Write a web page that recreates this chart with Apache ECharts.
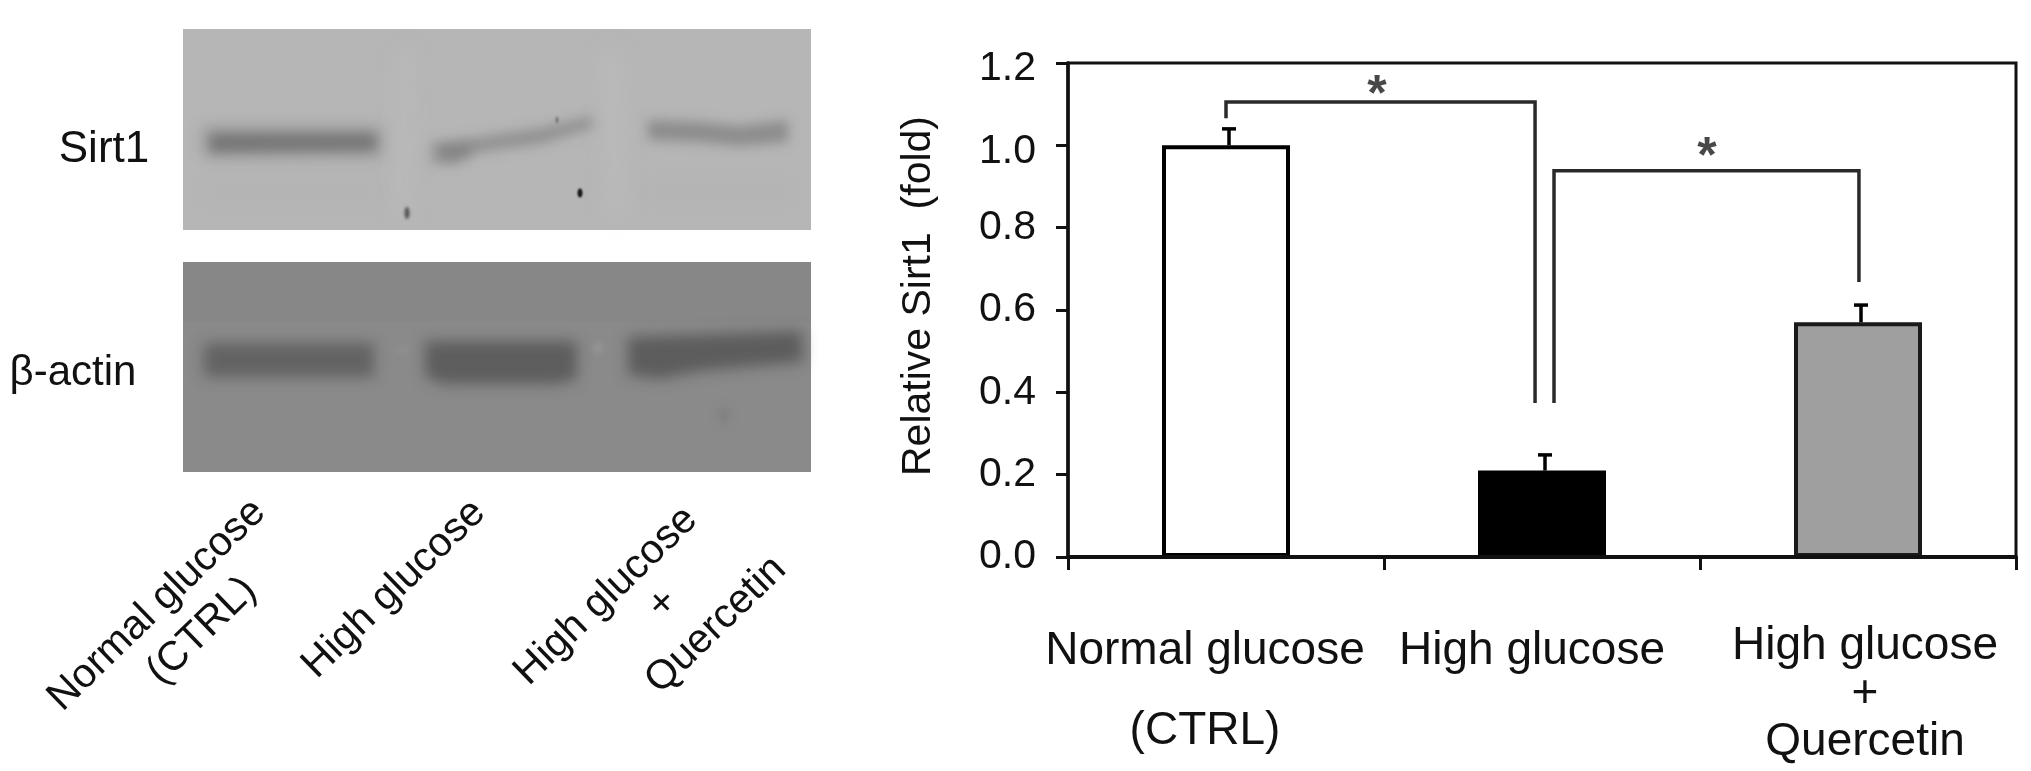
<!DOCTYPE html>
<html><head><meta charset="utf-8">
<style>html,body{margin:0;padding:0;background:#fff}#c{width:2031px;height:771px}</style>
<script src="https://cdn.jsdelivr.net/npm/echarts@6/dist/echarts.min.js"></script>
</head><body><div id="c"></div>
<script>
const categories = ['Normal glucose\n(CTRL)', 'High glucose', 'High glucose\n+\nQuercetin'];
const means = [1.0, 0.21, 0.57];
const errorTops = [1.04, 0.248, 0.612];
const barColors = ['#ffffff', '#000000', '#9f9f9f'];
const yTicks = {min: 0, max: 1.2, step: 0.2};
const bracketA = [[0.5, 1.066], [0.5, 1.105], [1.478, 1.105], [1.478, 0.374]];
const bracketB = [[1.538, 0.374], [1.538, 0.938], [2.503, 0.938], [2.503, 0.668]];
const stars = [[0.978, 1.146], [2.022, 0.996]];
const yTitle = 'Relative Sirt1  (fold)';
const blotLabels = ['Sirt1', 'β-actin'];
const slantedLabels = ['Normal glucose', '(CTRL)', 'High glucose', 'High glucose', '+', 'Quercetin'];

const FONT = '"Liberation Sans", Arial, sans-serif';
const INK = '#111';
const OFF = 3000;

function blurShape(points, color, blur) {
  return {type: 'polygon', silent: true,
    shape: {points: points.map(p => [p[0] - OFF, p[1]])},
    style: {fill: color, shadowColor: color, shadowBlur: blur, shadowOffsetX: OFF}};
}
function rect(x, y, w, h, fill) {
  return {type: 'rect', silent: true, shape: {x, y, width: w, height: h}, style: {fill}};
}
function spot(cx, cy, rx, ry, color, blur) {
  return {type: 'ellipse', silent: true, shape: {cx: cx - OFF, cy, rx, ry},
    style: {fill: color, shadowColor: color, shadowBlur: blur, shadowOffsetX: OFF}};
}
function streak(x, w, color) {
  return blurShape([[x, 40], [x + w, 40], [x + w, 220], [x, 220]], color, 16);
}

const blots = [
  rect(183, 29, 628, 201, '#b6b6b6'),
  streak(205, 30, 'rgba(255,255,255,0.05)'),
  streak(262, 36, 'rgba(0,0,0,0.025)'),
  streak(335, 40, 'rgba(255,255,255,0.05)'),
  streak(480, 36, 'rgba(255,255,255,0.05)'),
  streak(530, 30, 'rgba(0,0,0,0.025)'),
  streak(650, 30, 'rgba(0,0,0,0.02)'),
  streak(720, 36, 'rgba(255,255,255,0.05)'),
  blurShape([[396,50],[414,50],[412,218],[396,218]], 'rgba(200,200,200,0.5)', 20),
  blurShape([[600,50],[622,50],[626,218],[606,218]], 'rgba(200,200,200,0.5)', 20),
  blurShape([[204,128],[380,128],[380,156],[204,156]], 'rgba(120,120,120,0.7)', 16),
  blurShape([[210,134],[376,134],[376,150],[210,152]], 'rgba(100,100,100,0.8)', 12),
  blurShape([[432,143],[480,137],[540,128],[592,116],[592,128],[540,144],[480,152],[456,164],[432,164]], 'rgba(125,125,125,0.8)', 12),
  blurShape([[438,146],[470,144],[470,154],[448,160]], 'rgba(115,115,115,0.6)', 10),
  blurShape([[648,120],[700,122],[740,126],[788,120],[788,142],[740,146],[700,142],[648,140]], 'rgba(118,118,118,0.8)', 12),
  blurShape([[205,185],[375,185],[375,200],[205,200]], 'rgba(150,150,150,0.3)', 20),
  blurShape([[650,185],[790,185],[790,200],[650,200]], 'rgba(150,150,150,0.25)', 20),
  spot(407, 213, 2.5, 6, '#555', 3),
  spot(580, 193, 2.5, 4.5, '#151515', 2),
  spot(557, 120, 1.5, 3.5, '#777', 2),
  rect(183, 262, 628, 210, '#8a8a8a'),
  rect(183, 262, 628, 60, 'rgba(0,0,0,0.02)'),
  blurShape([[204,343],[374,343],[374,377],[204,377]], 'rgba(90,90,90,0.9)', 14),
  blurShape([[425,341],[577,341],[577,379],[558,384],[444,384],[425,377]], 'rgba(84,84,84,0.9)', 14),
  blurShape([[628,337],[802,331],[803,362],[700,371],[660,379],[628,375]], 'rgba(82,82,82,0.9)', 14),
  spot(403, 350, 6, 3, '#939393', 6),
  spot(598, 348, 5, 5, '#979797', 6),
  spot(724, 415, 5, 9, '#7f7f7f', 8)
];

function txt(text, x, y, size, rotation) {
  return {type: 'text', silent: true, x, y, rotation: rotation || 0,
    style: {text, x: 0, y: 0, align: 'center', verticalAlign: 'middle', fill: INK,
            font: size + 'px ' + FONT}};
}
const slantCenters = [[157,605],[202,631],[394,589],[606,596],[663,604],[716,625]];
const texts = [
  txt(blotLabels[0], 104, 150, 44),
  txt(blotLabels[1], 73, 373, 42),
  ...slantedLabels.map((t, i) => txt(t, slantCenters[i][0], slantCenters[i][1], 41, Math.PI * 0.245))
];

const catData = categories.map((c, i) => ({
  value: c,
  textStyle: [
    {lineHeight: 80, padding: [0, 42, 0, 0]},
    {lineHeight: 80, padding: [0, 20, 0, 0]},
    {lineHeight: 48, padding: [11, 0, 0, 14]}
  ][i]
}));

const chart = echarts.init(document.getElementById('c'), null, {renderer: 'canvas'});
chart.setOption({
  animation: false,
  backgroundColor: '#ffffff',
  textStyle: {fontFamily: FONT},
  grid: {left: 1068, top: 63, width: 948, height: 494, show: true, borderColor: INK, borderWidth: 3, backgroundColor: 'transparent'},
  xAxis: [
    {type: 'category', data: catData, boundaryGap: true, z: 6,
      axisLine: {onZero: true, lineStyle: {color: INK, width: 4}},
      axisTick: {show: true, alignWithLabel: false, length: 13, lineStyle: {color: INK, width: 3}},
      axisLabel: {interval: 0, margin: 54, fontSize: 46, color: INK, fontFamily: FONT, verticalAlign: 'top'},
      splitLine: {show: false}},
    {type: 'value', min: 0, max: 3, show: false, splitLine: {show: false}}
  ],
  yAxis: {type: 'value', min: yTicks.min, max: yTicks.max, interval: yTicks.step,
    name: yTitle, nameLocation: 'middle', nameGap: 129, nameRotate: 90,
    nameTextStyle: {fontSize: 41, color: INK, fontFamily: FONT, padding: [0, 0, 0, 28]},
    axisLine: {show: true, lineStyle: {color: INK, width: 3.5}},
    axisTick: {show: true, length: 12, lineStyle: {color: INK, width: 3}},
    axisLabel: {fontSize: 41, color: INK, margin: 32, fontFamily: FONT,
      formatter: v => (v >= 1 ? '{low|' + v.toFixed(1) + '}' : v.toFixed(1)),
      rich: {low: {fontSize: 41, color: INK, fontFamily: FONT, padding: [12, 0, 0, 0]}}},
    splitLine: {show: false}},
  series: [
    {type: 'bar', barWidth: 128, xAxisIndex: 0, z: 2,
      data: means.map((v, i) => ({value: v, itemStyle: {color: barColors[i], borderColor: i === 2 ? '#1a1a1a' : '#000', borderWidth: 4}}))},
    {type: 'custom', xAxisIndex: 0, z: 3,
      data: errorTops.map((t, i) => [i, means[i], t]),
      encode: {x: 0, y: [1, 2]},
      renderItem(params, api) {
        const a = api.coord([api.value(0), api.value(1)]);
        const b = api.coord([api.value(0), api.value(2)]);
        const x = a[0] + 3;
        const st = {stroke: '#000', lineWidth: 3.5, fill: 'none'};
        return {type: 'group', children: [
          {type: 'line', shape: {x1: x, y1: a[1], x2: x, y2: b[1]}, style: st},
          {type: 'line', shape: {x1: x - 7, y1: b[1], x2: x + 7, y2: b[1]}, style: st}
        ]};
      }},
    {type: 'line', xAxisIndex: 1, data: bracketA, symbol: 'none', z: 4, lineStyle: {color: '#2a2a2a', width: 3.5, join: 'miter'}},
    {type: 'line', xAxisIndex: 1, data: bracketB, symbol: 'none', z: 4, lineStyle: {color: '#2a2a2a', width: 3.5, join: 'miter'}},
    {type: 'scatter', xAxisIndex: 1, data: stars, symbolSize: 1, z: 5, itemStyle: {color: 'transparent'},
      label: {show: true, position: 'inside', formatter: '*', fontSize: 50, fontWeight: 'bold', color: '#1a1a1a', fontFamily: FONT, offset: [0, 11]}}
  ],
  graphic: {elements: [{type: 'group', silent: true, children: blots.concat(texts)}]}
});
</script></body></html>
